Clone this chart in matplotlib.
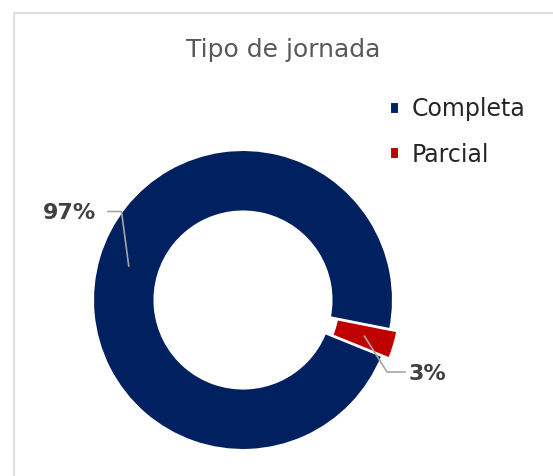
import numpy as np
import matplotlib
matplotlib.use("Agg")
import matplotlib.pyplot as plt
from matplotlib.patches import Rectangle

# datos
categorias = ["Completa", "Parcial"]
porcentajes = [97, 3]
colores = ["#002060", "#C00000"]
explode = [0, 0.05]

# posiciones de etiquetas (codo, texto) en unidades del eje
pos_etiquetas = [((-0.81, 0.59), (-0.90, 0.59), (-1.16, 0.58)),
                 ((0.96, -0.48), (1.08, -0.48), (1.23, -0.49))]

fig = plt.figure(figsize=(5.53, 4.76), dpi=100)
fig.patch.set_facecolor("white")

# borde del gráfico
fig.add_artist(Rectangle((14 / 553, -0.05), 1.1, 0.9727 + 0.05, transform=fig.transFigure,
                         fill=False, edgecolor="#D9D9D9", linewidth=1.2))

ax = fig.add_axes([63 / 553, -4 / 476, 360 / 553, 360 / 476])
inicio = -22
wedges, _ = ax.pie(porcentajes, colors=colores, explode=explode, startangle=inicio,
                   counterclock=False, radius=1,
                   wedgeprops=dict(width=0.41, edgecolor="white", linewidth=1.5))
ax.set_xlim(-1.2, 1.2)
ax.set_ylim(-1.2, 1.2)
ax.set_aspect("equal")
ax.axis("off")

for w, p, e, (codo, fin, txt) in zip(wedges, porcentajes, explode, pos_etiquetas):
    ang = np.deg2rad((w.theta1 + w.theta2) / 2)
    r = 0.795 + e
    x0, y0 = r * np.cos(ang), r * np.sin(ang)
    ax.plot([x0, codo[0], fin[0]], [y0, codo[1], fin[1]], color="#A6A6A6", lw=1.2,
            clip_on=False)
    ax.text(txt[0], txt[1], f"{p}%", ha="center", va="center", fontsize=16,
            fontweight="bold", color="#404040", clip_on=False)

fig.text(283 / 553, 1 - 50 / 476, "Tipo de jornada", ha="center", va="center",
         fontsize=18, color="#595959")

fig.legend(wedges, categorias, loc="upper left", bbox_to_anchor=(390 / 553, 1 - 97 / 476),
           frameon=False, fontsize=17, handlelength=0.4, handleheight=0.4,
           handletextpad=0.5, labelspacing=0.92, labelcolor="#262626",
           borderpad=0, borderaxespad=0)

fig.savefig("out.png", dpi=100)
